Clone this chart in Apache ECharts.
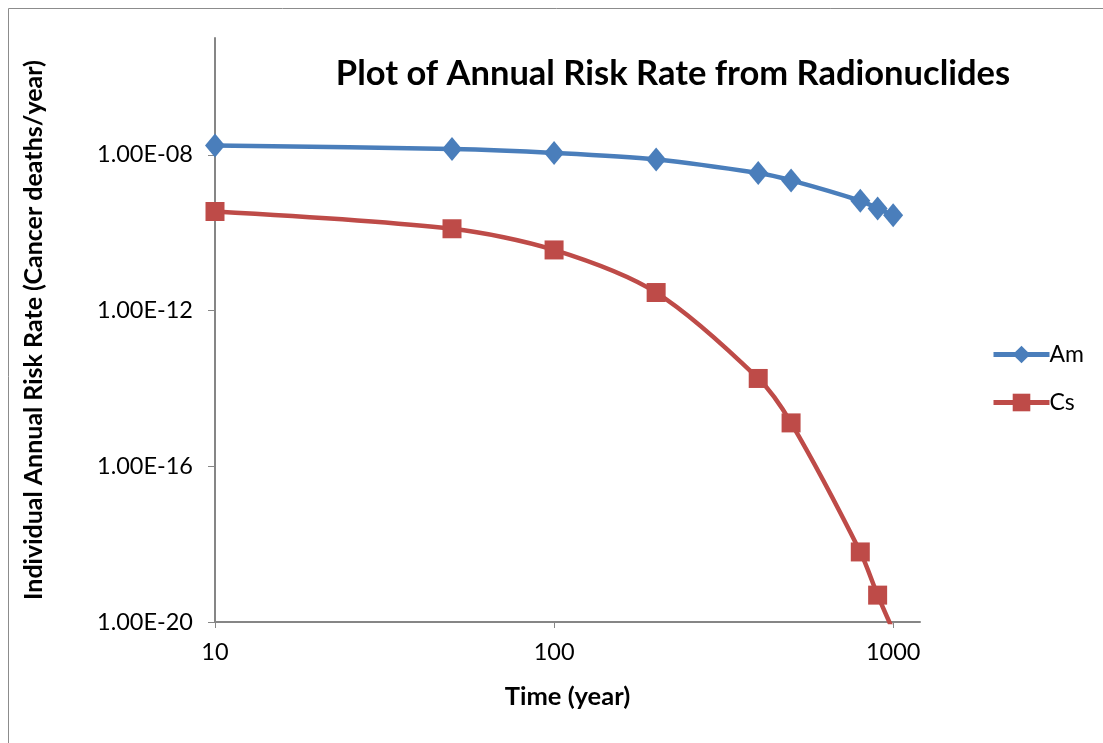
<!DOCTYPE html>
<html>
<head>
<meta charset="utf-8">
<script src="https://cdn.jsdelivr.net/npm/echarts@6/dist/echarts.min.js"></script>
<style>
html,body{margin:0;padding:0;background:#fff;}
#chart{width:1103px;height:743px;}
</style>
</head>
<body>
<div id="chart"></div>
<script>
// Data
var timeYears = [10, 50, 100, 200, 400, 500, 800, 900, 1000];
var amRisk = [1.74e-8, 1.41e-8, 1.12e-8, 7.6e-9, 3.4e-9, 2.2e-9, 6.6e-10, 4.2e-10, 2.8e-10];
var csRisk = [3.5e-10, 1.26e-10, 3.6e-11, 2.9e-12, 1.8e-14, 1.3e-15, 6.3e-19, 4.9e-20, 6e-21];
var xTickValues = [10, 100, 1000];
var yTickValues = [1e-20, 1e-16, 1e-12, 1e-8];

function pairs(xs, ys) {
  return xs.map(function (x, i) { return [x, ys[i]]; });
}
function sciLabel(v) {
  var e = Math.round(Math.log10(v));
  if (Math.abs(Math.log10(v) - e) > 1e-6) return '';
  var m = v / Math.pow(10, e);
  var a = Math.abs(e);
  return m.toFixed(2) + 'E' + (e < 0 ? '-' : '+') + (a < 10 ? '0' + a : '' + a);
}
function xLabel(v) {
  var e = Math.log10(v);
  if (Math.abs(e - Math.round(e)) > 1e-6) return '';
  return String(Math.round(v));
}

var axisColor = '#868686';
var font = 'Lato, "Open Sans", sans-serif';
var chart = echarts.init(document.getElementById('chart'), null, {renderer: 'canvas'});
chart.setOption({
  animation: false,
  backgroundColor: '#ffffff',
  textStyle: {fontFamily: font},
  graphic: [{
    type: 'rect',
    shape: {x: 8.5, y: 8.5, width: 1200, height: 1000},
    style: {fill: 'none', stroke: '#8c8c8c', lineWidth: 1},
    silent: true
  }],
  title: {
    text: 'Plot of Annual Risk Rate from Radionuclides',
    left: 668, top: 51, textAlign: 'center',
    textStyle: {fontFamily: font, fontWeight: 'bold', fontSize: 34.5, color: '#000'}
  },
  legend: {
    orient: 'vertical',
    left: 986, top: 338,
    itemWidth: 56, itemHeight: 22, itemGap: 25,
    lineStyle: {width: 5},
    textStyle: {fontFamily: font, fontSize: 23, color: '#000', padding: [0, 0, 0, -5]},
    data: ['Am', 'Cs']
  },
  grid: {left: 215, right: 183, top: 38, bottom: 121, containLabel: false},
  xAxis: {
    type: 'log', min: 10, max: 1200, logBase: 10,
    name: 'Time (year)', nameLocation: 'middle', nameGap: 62,
    nameTextStyle: {fontFamily: font, fontWeight: 'bold', fontSize: 25.5, color: '#000'},
    axisLine: {show: true, lineStyle: {color: axisColor, width: 2}},
    axisTick: {show: true, inside: false, length: 6, lineStyle: {color: axisColor}, customValues: xTickValues},
    axisLabel: {fontFamily: font, fontSize: 23.5, color: '#000', margin: 18, formatter: xLabel, customValues: xTickValues},
    splitLine: {show: false},
    minorTick: {show: false}
  },
  yAxis: {
    type: 'log', min: 1e-20, max: 1e-5, logBase: 10,
    name: 'Individual Annual Risk Rate (Cancer deaths/year)', nameLocation: 'middle', nameGap: 169,
    nameTextStyle: {fontFamily: font, fontWeight: 'bold', fontSize: 25, color: '#000'},
    axisLine: {show: true, lineStyle: {color: axisColor, width: 2}},
    axisTick: {show: true, inside: false, length: 7, lineStyle: {color: axisColor}, customValues: yTickValues},
    axisLabel: {fontFamily: font, fontSize: 23.5, color: '#000', margin: 22, formatter: sciLabel, customValues: yTickValues},
    splitLine: {show: false},
    minorTick: {show: false}
  },
  series: [{
    name: 'Am', type: 'line', data: pairs(timeYears, amRisk),
    smooth: 0.3, clip: true,
    symbol: 'diamond', symbolSize: [20, 24],
    lineStyle: {color: '#4A7EBB', width: 4.5},
    itemStyle: {color: '#4A7EBB'}
  }, {
    name: 'Cs', type: 'line', data: pairs(timeYears, csRisk),
    smooth: 0.3, clip: true,
    symbol: 'rect', symbolSize: 19,
    lineStyle: {color: '#BE4B48', width: 4.5},
    itemStyle: {color: '#BE4B48'}
  }]
});
</script>
</body>
</html>
